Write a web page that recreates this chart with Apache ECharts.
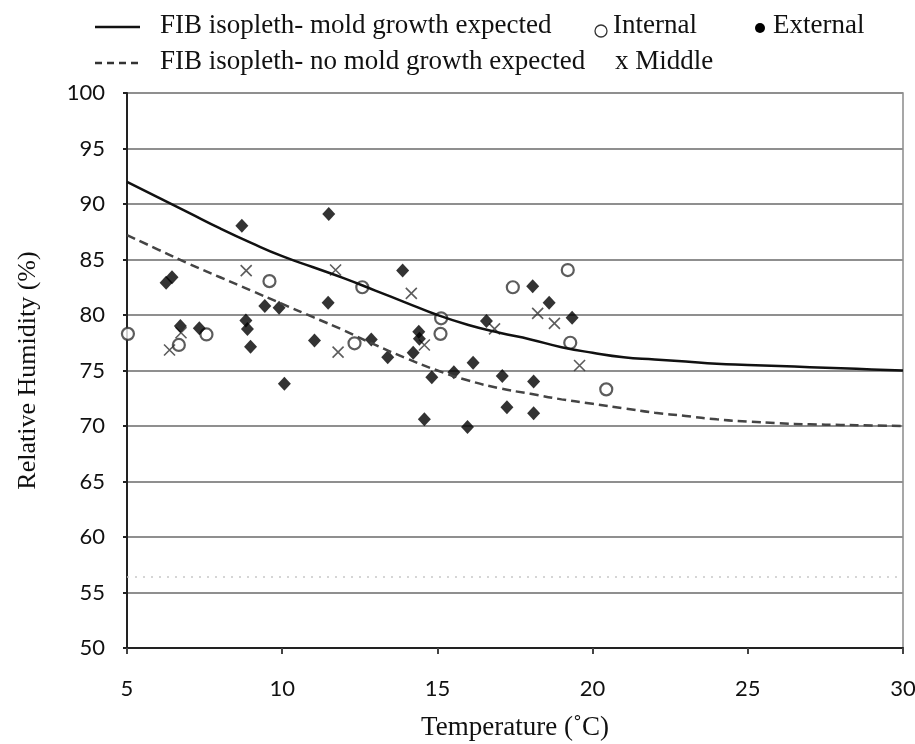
<!DOCTYPE html>
<html>
<head>
<meta charset="utf-8">
<script src="https://cdn.jsdelivr.net/npm/echarts@6/dist/echarts.min.js"></script>
<style>
html,body{margin:0;padding:0;background:#fff;}
#chart{width:915px;height:744px;}
</style>
</head>
<body>
<div id="chart"></div>
<script>
// ---- data ----
var xTicks = [5, 10, 15, 20, 25, 30];
var yTicks = [50, 55, 60, 65, 70, 75, 80, 85, 90, 95, 100];

var isoTemps = [5,6,7,8,9,10,11,12,13,14,15,16,17,18,19,20,21,22,23,24,25,26,27,28,29,30];
var moldExpected = [92.0,90.6,89.2,87.8,86.5,85.3,84.3,83.3,82.2,81.1,80.0,79.1,78.4,77.8,77.1,76.6,76.2,76.0,75.8,75.6,75.5,75.4,75.3,75.2,75.1,75.0];
var noMoldExpected = [87.2,85.9,84.6,83.4,82.2,81.0,79.8,78.6,77.3,76.1,75.0,74.1,73.4,72.9,72.4,72.0,71.6,71.2,70.9,70.6,70.4,70.25,70.15,70.1,70.05,70.0];

var internalPts = [[5.03,78.3],[6.67,77.3],[7.56,78.25],[9.59,83.05],[12.58,82.5],[12.33,77.45],[15.12,79.7],[15.1,78.3],[17.43,82.5],[19.2,84.05],[19.28,77.5],[20.44,73.3]];
var middlePts = [[6.37,76.85],[6.74,78.4],[8.84,84.0],[11.72,84.05],[11.8,76.65],[14.16,81.95],[14.58,77.3],[16.84,78.75],[18.23,80.15],[18.77,79.25],[19.58,75.45]];
var externalPts = [[6.26,82.9],[6.45,83.4],[6.72,79.0],[7.33,78.8],[8.7,88.05],[8.83,79.5],[8.88,78.75],[8.98,77.15],[9.44,80.8],[9.9,80.65],[10.07,73.8],[11.04,77.7],[11.5,89.1],[11.48,81.1],[12.87,77.8],[13.4,76.2],[13.88,84.0],[14.4,78.5],[14.42,77.85],[14.22,76.6],[14.82,74.4],[15.53,74.85],[16.15,75.7],[14.58,70.6],[15.97,69.9],[16.58,79.45],[17.09,74.5],[17.24,71.7],[18.07,82.6],[18.1,74.0],[18.1,71.15],[18.6,81.1],[19.34,79.75]];

var legendLabels = ['FIB isopleth- mold growth expected','FIB isopleth- no mold growth expected','Internal','External','x Middle'];

// ---- chart ----
var chart = echarts.init(document.getElementById('chart'), null, {renderer:'canvas'});
function pairs(xs, ys){ return xs.map(function(x,i){return [x, ys[i]];}); }
var serif = '"Liberation Serif", "Times New Roman", serif';
var sans = 'Lato, "Open Sans", sans-serif';
var crossPath = 'path://M0,0L10,10M10,0L0,10';

var option = {
  backgroundColor:'#fff',
  animation:false,
  grid:{left:127, right:12, top:93, bottom:96, show:true, borderColor:'#8a8a8a', borderWidth:1.5,
        containLabel:false, outerBoundsMode:'none'},
  xAxis:{
    type:'value', min:xTicks[0], max:xTicks[xTicks.length-1], interval:5,
    name:'Temperature (\u02DAC)', nameLocation:'middle', nameGap:66,
    nameTextStyle:{fontFamily:serif, fontSize:27, color:'#111'},
    axisLine:{show:true, lineStyle:{color:'#222', width:2}},
    axisTick:{show:true, length:6, lineStyle:{color:'#444', width:2}},
    axisLabel:{fontFamily:sans, fontSize:22, color:'#111', margin:30},
    splitLine:{show:false}
  },
  yAxis:{
    type:'value', min:yTicks[0], max:yTicks[yTicks.length-1], interval:5,
    name:'Relative Humidity (%)', nameLocation:'middle', nameGap:86,
    nameTextStyle:{fontFamily:serif, fontSize:26, color:'#111'},
    axisLine:{show:true, lineStyle:{color:'#222', width:2}},
    axisTick:{show:true, length:4, lineStyle:{color:'#222', width:2}},
    axisLabel:{fontFamily:sans, fontSize:22, color:'#111', margin:22},
    splitLine:{show:true, lineStyle:{color:'#8f8f8f', width:2}}
  },
  series:[
    {
      name:legendLabels[0], type:'line', smooth:true, showSymbol:false,
      data:pairs(isoTemps, moldExpected),
      lineStyle:{color:'#111', width:2.5},
      markLine:{silent:true, symbol:'none', label:{show:false},
        lineStyle:{color:'#c8c8c8', type:[2,6], width:1.5},
        data:[{yAxis:56.4}]}
    },
    {
      name:legendLabels[1], type:'line', smooth:true, showSymbol:false,
      data:pairs(isoTemps, noMoldExpected),
      lineStyle:{color:'#444', width:2.5, type:[9,5]}
    },
    {
      name:legendLabels[2], type:'scatter', data:internalPts,
      symbol:'circle', symbolSize:12,
      itemStyle:{color:'#fff', borderColor:'#333', borderWidth:2.2}
    },
    {
      name:'Middle', type:'scatter', data:middlePts,
      symbol:crossPath, symbolSize:11,
      itemStyle:{color:'none', borderColor:'#333', borderWidth:1.6}
    },
    {
      name:legendLabels[3], type:'scatter', data:externalPts,
      symbol:'diamond', symbolSize:[13,14],
      itemStyle:{color:'#000'}
    }
  ],
  graphic:[
    {type:'line', shape:{x1:95,y1:27,x2:140,y2:27}, style:{stroke:'#111', lineWidth:2.5}},
    {type:'text', left:160, top:12, style:{text:legendLabels[0], font:'27px '+serif, fill:'#111'}},
    {type:'line', shape:{x1:95,y1:63,x2:140,y2:63}, style:{stroke:'#333', lineWidth:2.5, lineDash:[7,5]}},
    {type:'text', left:160, top:48, style:{text:legendLabels[1], font:'27px '+serif, fill:'#111'}},
    {type:'circle', shape:{cx:601, cy:31, r:6}, style:{fill:'#fff', stroke:'#333', lineWidth:1.3}},
    {type:'text', left:613, top:12, style:{text:legendLabels[2], font:'27px '+serif, fill:'#111'}},
    {type:'circle', shape:{cx:760, cy:28, r:5}, style:{fill:'#000'}},
    {type:'text', left:773, top:12, style:{text:legendLabels[3], font:'27px '+serif, fill:'#111'}},
    {type:'text', left:615, top:48, style:{text:legendLabels[4], font:'27px '+serif, fill:'#111'}}
  ]
};
chart.setOption(option);
</script>
</body>
</html>
